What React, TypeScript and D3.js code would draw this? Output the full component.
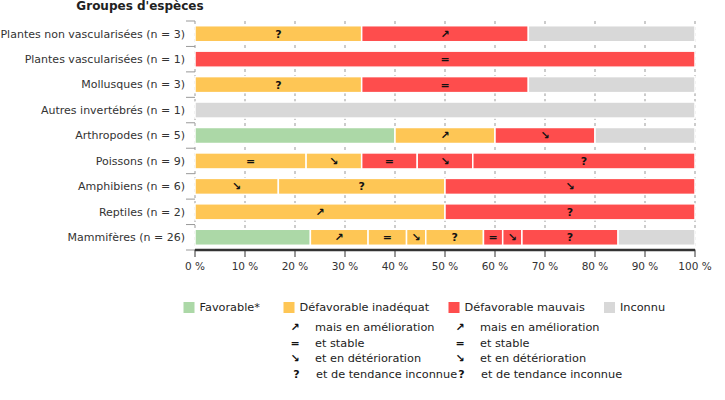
import React from "react";
import * as d3 from "d3";

const categories = [
  "Plantes non vascularisées (n = 3)",
  "Plantes vascularisées (n = 1)",
  "Mollusques (n = 3)",
  "Autres invertébrés (n = 1)",
  "Arthropodes (n = 5)",
  "Poissons (n = 9)",
  "Amphibiens (n = 6)",
  "Reptiles (n = 2)",
  "Mammifères (n = 26)",
];

// segments per category: [status, trend symbol, count]
const plantesNonVasc = [["inad", "?", 1], ["mauv", "↗", 1], ["inc", "", 1]];
const plantesVasc = [["mauv", "=", 1]];
const mollusques = [["inad", "?", 1], ["mauv", "=", 1], ["inc", "", 1]];
const autresInv = [["inc", "", 1]];
const arthropodes = [["fav", "", 2], ["inad", "↗", 1], ["mauv", "↘", 1], ["inc", "", 1]];
const poissons = [["inad", "=", 2], ["inad", "↘", 1], ["mauv", "=", 1], ["mauv", "↘", 1], ["mauv", "?", 4]];
const amphibiens = [["inad", "↘", 1], ["inad", "?", 2], ["mauv", "↘", 3]];
const reptiles = [["inad", "↗", 1], ["mauv", "?", 1]];
const mammiferes = [
  ["fav", "", 6], ["inad", "↗", 3], ["inad", "=", 2], ["inad", "↘", 1], ["inad", "?", 3],
  ["mauv", "=", 1], ["mauv", "↘", 1], ["mauv", "?", 5], ["inc", "", 4],
];
const segmentsByCategory: any[][] = [
  plantesNonVasc, plantesVasc, mollusques, autresInv, arthropodes, poissons, amphibiens, reptiles, mammiferes,
];

const xTicks = [0, 10, 20, 30, 40, 50, 60, 70, 80, 90, 100];
const statusKeys = ["fav", "inad", "mauv", "inc"];
const statusLabels = ["Favorable*", "Défavorable inadéquat", "Défavorable mauvais", "Inconnu"];
const statusColors = ["#acd8a7", "#fec655", "#fe4d4d", "#d8d8d8"];
const trendSymbols = ["↗", "=", "↘", "?"];
const trendLabels = ["mais en amélioration", "et stable", "et en détérioration", "et de tendance inconnue"];

const font = "DejaVu Sans, sans-serif";

export default function App() {
  const x = d3.scaleLinear().domain([0, 100]).range([195, 695]);
  const y = d3.scaleBand<string>().domain(categories).range([21, 250]).paddingInner(0.37).paddingOuter(0.185);
  const color = d3.scaleOrdinal<string, string>().domain(statusKeys).range(statusColors);
  const boundaries = d3.range(categories.length + 1).map((i) => 21 + i * (229 / categories.length));

  const bars: any[] = [];
  categories.forEach((cat, ci) => {
    const segs = segmentsByCategory[ci];
    const total = d3.sum(segs, (s: any) => s[2]);
    let cum = 0;
    segs.forEach((s: any, si: number) => {
      const x0 = x((cum / total) * 100);
      cum += s[2];
      const x1 = x((cum / total) * 100);
      bars.push({ key: `${ci}-${si}`, cat, x0, x1, status: s[0], trend: s[1] });
    });
  });

  return (
    <svg width={725} height={400} style={{ display: "block", position: "absolute", left: 0, top: 0 }} fontFamily={font}>
      <text x={140} y={10} textAnchor="middle" fontSize={12} fontWeight="bold" fill="#222">
        Groupes d'espèces
      </text>
      {xTicks.map((t) => (
        <line key={"g" + t} x1={x(t)} x2={x(t)} y1={21} y2={250} stroke="#999" strokeWidth={1} strokeDasharray="3,3" />
      ))}
      {boundaries.map((b, i) => (
        <line key={"yt" + i} x1={186} x2={195} y1={b} y2={b} stroke="#999" strokeWidth={1} />
      ))}
      {bars.map((b) => (
        <rect key={b.key} x={b.x0} y={y(b.cat)} width={b.x1 - b.x0} height={y.bandwidth()} fill={color(b.status)} stroke="#fff" strokeWidth={1.5} />
      ))}
      {bars.filter((b) => b.trend).map((b) => (
        <text key={"t" + b.key} x={(b.x0 + b.x1) / 2} y={(y(b.cat) as number) + y.bandwidth() / 2} dy="0.36em" textAnchor="middle" fontSize={11} fontWeight="bold" fill="#111">
          {b.trend}
        </text>
      ))}
      {categories.map((c) => (
        <text key={"yl" + c} x={185} y={(y(c) as number) + y.bandwidth() / 2} dy="0.35em" textAnchor="end" fontSize={11} fill="#333">
          {c}
        </text>
      ))}
      <line x1={195} x2={695} y1={250} y2={250} stroke="#333" strokeWidth={2.5} />
      {xTicks.map((t) => (
        <g key={"xt" + t}>
          <line x1={x(t)} x2={x(t)} y1={250} y2={257} stroke="#333" strokeWidth={1} />
          <text x={x(t)} y={270} textAnchor="middle" fontSize={10.5} fill="#333">
            {t} %
          </text>
        </g>
      ))}
      {[183.5, 283.5, 448.5, 604].map((lx, i) => (
        <g key={"lg" + i}>
          <rect x={lx} y={302} width={11} height={11} fill={statusColors[i]} />
          <text x={lx + 16} y={307.5} dy="0.35em" fontSize={11.3} fill="#222">
            {statusLabels[i]}
          </text>
        </g>
      ))}
      {[295, 460].map((sx, col) =>
        trendSymbols.map((s, i) => (
          <g key={"tr" + col + i}>
            <text x={sx + (s === "?" ? 1.5 : 0)} y={327.5 + i * 15.5} dy="0.35em" textAnchor="middle" fontSize={11} fontWeight="bold" fill="#111">
              {s}
            </text>
            <text x={sx + 20 + (s === "?" ? 1 : 0)} y={327.5 + i * 15.5} dy="0.35em" fontSize={11.3} fill="#222">
              {trendLabels[i]}
            </text>
          </g>
        ))
      )}
    </svg>
  );
}
